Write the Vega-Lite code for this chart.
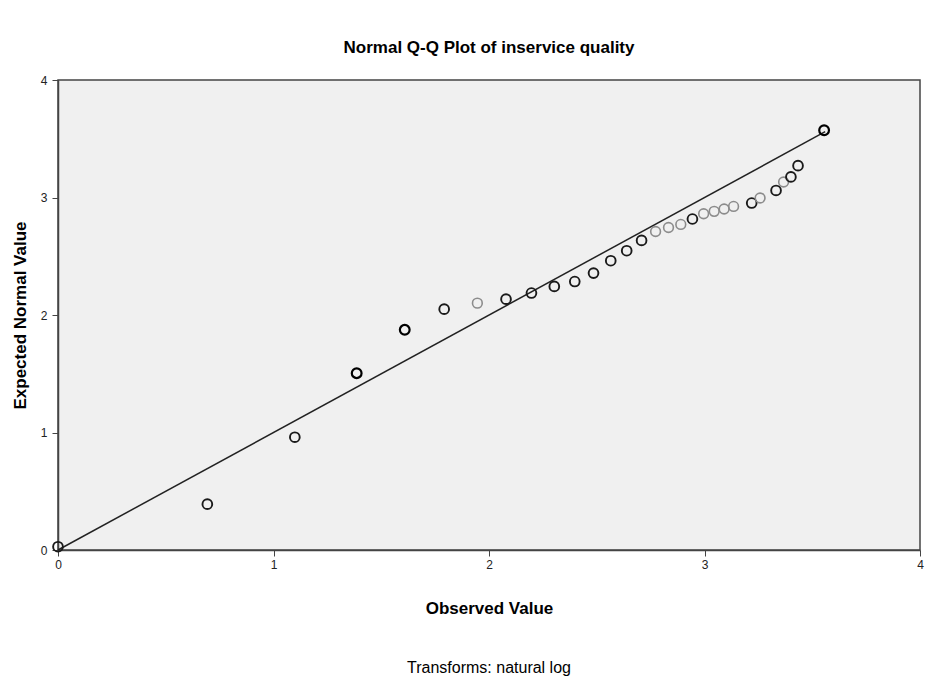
{
  "$schema": "https://vega.github.io/schema/vega-lite/v6.json",
  "width": 862,
  "height": 470,
  "autosize": "none",
  "padding": {"left": 58, "top": 80, "right": 7, "bottom": 134},
  "background": "white",
  "title": {
    "text": "Normal Q-Q Plot of inservice quality",
    "font": "Liberation Sans",
    "fontSize": 17,
    "fontWeight": "bold",
    "color": "#000000",
    "anchor": "middle",
    "offset": 17
  },
  "config": {
    "view": {"fill": "#f0f0f0", "stroke": "#444444", "strokeWidth": 1.5},
    "axis": {
      "grid": false,
      "domainColor": "#444444",
      "domainWidth": 1.5,
      "tickColor": "#444444",
      "tickSize": 6,
      "labelFlush": false,
      "format": "d",
      "labelFont": "Liberation Sans",
      "labelFontSize": 12,
      "labelColor": "#222222",
      "titleFont": "Liberation Sans",
      "titleFontSize": 17,
      "titleFontWeight": "bold",
      "titleColor": "#000000"
    }
  },
  "datasets": {
    "points": [
      {"observed": 0.0, "expected": 0.028, "cases": 2},
      {"observed": 0.693, "expected": 0.39, "cases": 2},
      {"observed": 1.099, "expected": 0.96, "cases": 2},
      {"observed": 1.386, "expected": 1.505, "cases": 3},
      {"observed": 1.609, "expected": 1.874, "cases": 3},
      {"observed": 1.792, "expected": 2.05, "cases": 2},
      {"observed": 1.946, "expected": 2.101, "cases": 1},
      {"observed": 2.079, "expected": 2.135, "cases": 2},
      {"observed": 2.197, "expected": 2.187, "cases": 2},
      {"observed": 2.303, "expected": 2.243, "cases": 2},
      {"observed": 2.398, "expected": 2.285, "cases": 2},
      {"observed": 2.485, "expected": 2.357, "cases": 2},
      {"observed": 2.565, "expected": 2.462, "cases": 2},
      {"observed": 2.639, "expected": 2.547, "cases": 2},
      {"observed": 2.708, "expected": 2.635, "cases": 2},
      {"observed": 2.773, "expected": 2.711, "cases": 1},
      {"observed": 2.833, "expected": 2.745, "cases": 1},
      {"observed": 2.89, "expected": 2.771, "cases": 1},
      {"observed": 2.944, "expected": 2.817, "cases": 2},
      {"observed": 2.996, "expected": 2.862, "cases": 1},
      {"observed": 3.045, "expected": 2.882, "cases": 1},
      {"observed": 3.091, "expected": 2.902, "cases": 1},
      {"observed": 3.135, "expected": 2.924, "cases": 1},
      {"observed": 3.219, "expected": 2.953, "cases": 2},
      {"observed": 3.258, "expected": 2.996, "cases": 1},
      {"observed": 3.332, "expected": 3.06, "cases": 2},
      {"observed": 3.367, "expected": 3.132, "cases": 1},
      {"observed": 3.401, "expected": 3.175, "cases": 2},
      {"observed": 3.434, "expected": 3.271, "cases": 2},
      {"observed": 3.555, "expected": 3.572, "cases": 3}
    ],
    "refline": [
      {"observed": 0.0, "expected": 0.0},
      {"observed": 3.56, "expected": 3.56}
    ],
    "note": [
      {"label": "Transforms: natural log", "observed": 2.0, "expected": -1.0}
    ]
  },
  "layer": [
    {
      "data": {"name": "refline"},
      "mark": {"type": "line", "color": "#222222", "strokeWidth": 1.5},
      "encoding": {
        "x": {
          "field": "observed",
          "type": "quantitative",
          "scale": {"domain": [0, 4], "nice": false, "zero": true},
          "axis": {"title": "Observed Value", "values": [0, 1, 2, 3, 4], "titlePadding": 30, "labelPadding": 3}
        },
        "y": {
          "field": "expected",
          "type": "quantitative",
          "scale": {"domain": [0, 4], "nice": false},
          "axis": {"title": "Expected Normal Value", "values": [0, 1, 2, 3, 4], "titlePadding": 11, "labelPadding": 5}
        }
      }
    },
    {
      "data": {"name": "points"},
      "mark": {"type": "point", "shape": "circle", "filled": false, "size": 95, "opacity": 1},
      "encoding": {
        "x": {"field": "observed", "type": "quantitative"},
        "y": {"field": "expected", "type": "quantitative"},
        "color": {
          "field": "cases",
          "type": "ordinal",
          "scale": {"domain": [1, 2, 3], "range": ["#8c8c8c", "#1a1a1a", "#000000"]},
          "legend": null
        },
        "strokeWidth": {
          "field": "cases",
          "type": "ordinal",
          "scale": {"domain": [1, 2, 3], "range": [1.6, 2.2, 2.8]},
          "legend": null
        }
      }
    },
    {
      "data": {"name": "note"},
      "mark": {"type": "text", "font": "Liberation Sans", "fontSize": 16, "color": "#000000", "align": "center", "baseline": "middle", "clip": false},
      "encoding": {
        "x": {"field": "observed", "type": "quantitative"},
        "y": {"field": "expected", "type": "quantitative"},
        "text": {"field": "label"}
      }
    }
  ]
}
